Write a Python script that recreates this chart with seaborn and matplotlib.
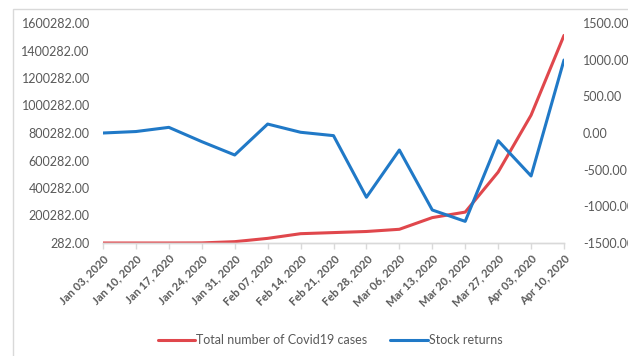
import numpy as np
import pandas as pd
import matplotlib
matplotlib.use("Agg")
import matplotlib.pyplot as plt
from matplotlib.patches import Rectangle
import seaborn as sns

# ---- data ----
dates = ["Jan 03, 2020", "Jan 10, 2020", "Jan 17, 2020", "Jan 24, 2020", "Jan 31, 2020",
         "Feb 07, 2020", "Feb 14, 2020", "Feb 21, 2020", "Feb 28, 2020", "Mar 06, 2020",
         "Mar 13, 2020", "Mar 20, 2020", "Mar 27, 2020", "Apr 03, 2020", "Apr 10, 2020"]
covid_cases = [282, 282, 300, 900, 10000, 34000, 68000, 76000, 84000, 100000,
               185000, 225000, 516000, 930000, 1510000]
stock_returns = [0, 20, 77, -118, -300, 122, 10, -36, -876, -232,
                 -1050, -1205, -105, -586, 995]

left_ticks = [282 + 200000 * i for i in range(9)]
right_ticks = [-1500, -1000, -500, 0, 500, 1000, 1500]

RED = "#E0474C"
BLUE = "#2079C7"
GREY = "#595959"

sns.set_theme(style="white")
plt.rcParams["font.family"] = ["Lato", "DejaVu Sans"]

df = pd.DataFrame({"pos": np.arange(len(dates)), "cases": covid_cases, "returns": stock_returns})

fig = plt.figure(figsize=(6.28, 3.56), dpi=100)
ax = fig.add_axes([103 / 628, 1 - 243 / 356, (564 - 103) / 628, (243 - 23) / 356])
ax2 = ax.twinx()

sns.lineplot(data=df, x="pos", y="cases", ax=ax, color=RED, linewidth=2.2,
             label="Total number of Covid19 cases", legend=False)
sns.lineplot(data=df, x="pos", y="returns", ax=ax2, color=BLUE, linewidth=2.2,
             label="Stock returns", legend=False)

ax.set_xlim(0, len(dates) - 1)
ax.set_ylim(left_ticks[0], left_ticks[-1])
ax.set_yticks(left_ticks)
ax.set_yticklabels([f"{v:.2f}" for v in left_ticks])
ax2.set_ylim(-1500, 1500)
ax2.set_yticks(right_ticks)
ax2.set_yticklabels([f"{v:.2f}" for v in right_ticks])

ax.set_xticks(df["pos"])
ax.set_xticklabels(dates, rotation=45, ha="right", rotation_mode="anchor",
                   fontsize=8, fontweight="bold", color=GREY)
ax.set_xlabel("")
ax.set_ylabel("")
ax2.set_ylabel("")

for a in (ax, ax2):
    for s in ("top", "left", "right"):
        a.spines[s].set_visible(False)
    a.spines["bottom"].set_color("#D9D9D9")
    a.spines["bottom"].set_linewidth(1.0)
    a.grid(False)
ax.tick_params(axis="x", bottom=True, length=4, width=1, color="#D9D9D9", pad=3)
ax.tick_params(axis="y", left=False, length=0, labelsize=9, labelcolor=GREY, pad=9.5)
ax2.tick_params(axis="y", right=False, length=0, labelsize=9, labelcolor=GREY, pad=13.5)
ax2.tick_params(axis="x", bottom=False)

# chart area border
fig.patches.append(Rectangle((13 / 628, -0.05), 1.1, 1 - 9 / 356 + 0.05,
                             transform=fig.transFigure, fill=False,
                             edgecolor="#D9D9D9", linewidth=1.0))

h1, l1 = ax.get_legend_handles_labels()
h2, l2 = ax2.get_legend_handles_labels()
fig.legend(h1 + h2, l1 + l2, loc="center", bbox_to_anchor=(330 / 628, 1 - 340 / 356),
           ncol=2, frameon=False, fontsize=9, handlelength=3.0, handletextpad=0.1,
           columnspacing=1.8, labelcolor=GREY)

fig.savefig("out.png", dpi=100)
